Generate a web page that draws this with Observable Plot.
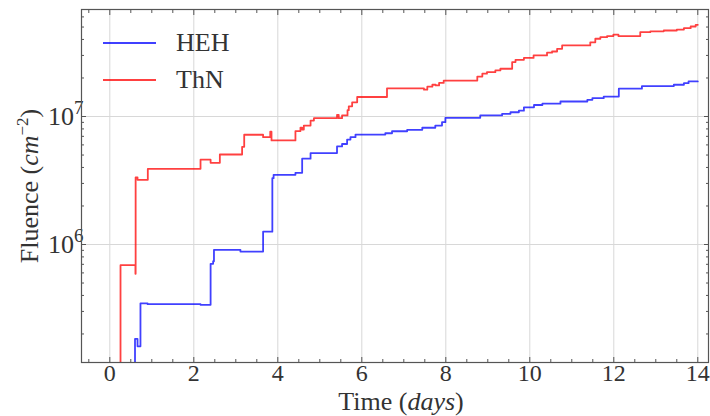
<!DOCTYPE html>
<html><head><meta charset="utf-8">
<script src="https://cdn.jsdelivr.net/npm/d3@7"></script>
<script src="https://cdn.jsdelivr.net/npm/@observablehq/plot@0.6"></script>
<style>
body{margin:0;background:#fff;}
#wrap{position:relative;width:710px;height:416px;font-family:"Liberation Serif",serif;}
#wrap svg{display:block;}
.leg{position:absolute;left:103px;height:30px;font-size:26px;color:#333;display:flex;align-items:center;}
.sw{width:53px;height:0;border-top:2px solid;margin-right:20px;}
</style></head><body><div id="wrap"></div>
<script>
const seriesNames = ["HEH", "ThN"];
const seriesColors = ["#0000ff", "#ff0000"];

const hehDays = [0, 0.6, 0.66, 0.73, 0.9, 2.16, 2.4, 2.46, 2.48, 3.11, 3.65, 3.87, 3.9, 4.42, 4.58, 4.78, 5.41, 5.53, 5.65, 5.73, 5.85, 6.56, 6.72, 7.08, 7.44, 7.75, 7.91, 7.99, 8.82, 9.34, 9.54, 9.74, 9.86, 10.1, 10.3, 10.73, 11.37, 11.49, 11.76, 12.12, 12.67, 13.43, 13.67, 13.78, 14.0];
const hehFluence = [1e5, 1.83e5, 1.6e5, 3.47e5, 3.42e5, 3.38e5, 7.06e5, 7.4e5, 9.08e5, 8.8e5, 1.26e6, 3.3e6, 3.5e6, 3.63e6, 4.68e6, 5.18e6, 5.84e6, 6.1e6, 6.6e6, 6.9e6, 7.23e6, 7.4e6, 7.67e6, 7.87e6, 8.17e6, 8.5e6, 9.03e6, 9.77e6, 1.02e7, 1.05e7, 1.08e7, 1.11e7, 1.18e7, 1.23e7, 1.26e7, 1.31e7, 1.35e7, 1.39e7, 1.43e7, 1.65e7, 1.73e7, 1.77e7, 1.82e7, 1.88e7, 1.88e7];

const thnDays = [0, 0.255, 0.61, 0.615, 0.66, 0.905, 2.16, 2.4, 2.62, 3.15, 3.2, 3.65, 3.82, 3.85, 4.42, 4.54, 4.58, 4.62, 4.78, 4.86, 5.41, 5.45, 5.53, 5.66, 5.69, 5.77, 5.89, 6.6, 7.48, 7.56, 7.68, 7.76, 7.84, 7.95, 8.75, 8.87, 8.98, 9.18, 9.3, 9.58, 9.66, 9.86, 10.09, 10.41, 10.53, 10.65, 10.77, 11.44, 11.56, 11.68, 11.84, 11.99, 12.11, 12.63, 12.87, 13.19, 13.5, 13.67, 13.83, 13.95, 14.0];
const thnFluence = [1e5, 6.9e5, 5.9e5, 3.35e6, 3.2e6, 3.9e6, 4.6e6, 4.35e6, 5.05e6, 5.8e6, 7.2e6, 6.9e6, 7.6e6, 6.5e6, 7.7e6, 8.2e6, 7.9e6, 8.5e6, 9.3e6, 9.7e6, 1.03e7, 9.7e6, 1.02e7, 1.12e7, 1.2e7, 1.29e7, 1.42e7, 1.66e7, 1.62e7, 1.71e7, 1.77e7, 1.75e7, 1.83e7, 1.91e7, 2.05e7, 2.16e7, 2.22e7, 2.29e7, 2.36e7, 2.66e7, 2.77e7, 2.87e7, 3.0e7, 3.15e7, 3.22e7, 3.38e7, 3.59e7, 3.8e7, 4.05e7, 4.17e7, 4.25e7, 4.37e7, 4.25e7, 4.56e7, 4.63e7, 4.7e7, 4.78e7, 4.9e7, 5.05e7, 5.2e7, 5.2e7];

const xTicks = [0, 2, 4, 6, 8, 10, 12, 14];
const xMinorTicks = [-0.5, 0.5, 1, 1.5, 2.5, 3, 3.5, 4.5, 5, 5.5, 6.5, 7, 7.5, 8.5, 9, 9.5, 10.5, 11, 11.5, 12.5, 13, 13.5, 14];
const yTicks = [1e6, 1e7];
const yTickBase = ["10", "10"];
const yTickExp = ["6", "7"];
const yMinorTicks = [2e5, 3e5, 4e5, 5e5, 6e5, 7e5, 8e5, 9e5, 2e6, 3e6, 4e6, 5e6, 6e6, 7e6, 8e6, 9e6, 2e7, 3e7, 4e7, 5e7, 6e7];

const rows = [
  ...hehDays.map((t, i) => ({series: seriesNames[0], t, v: hehFluence[i]})),
  ...thnDays.map((t, i) => ({series: seriesNames[1], t, v: thnFluence[i]}))
];
const colorOf = new Map(seriesNames.map((s, i) => [s, seriesColors[i]]));
const xMinor = xMinorTicks.filter(d => !xTicks.includes(d));

const plot = Plot.plot({
  width: 710, height: 416,
  marginLeft: 81, marginRight: 2, marginTop: 9, marginBottom: 54,
  style: {fontFamily: "'Liberation Serif', serif", color: "#333", background: "#fff"},
  x: {domain: [-0.674, 14.255]},
  y: {type: "log", domain: [1.197e5, 6.855e7]},
  marks: [
    Plot.gridX(xTicks, {stroke: "#d8d8d8", strokeOpacity: 1, strokeWidth: 1}),
    Plot.gridY(yTicks, {stroke: "#d8d8d8", strokeOpacity: 1, strokeWidth: 1}),
    Plot.line(rows, {x: "t", y: "v", z: "series", stroke: d => colorOf.get(d.series), curve: "step-after", strokeWidth: 1.8, strokeOpacity: 0.75, clip: true}),
    Plot.axisX(xTicks, {anchor: "bottom", tickSize: -5, tickPadding: 6, fontSize: 24, tickFormat: d => String(d), label: null, stroke: "#555"}),
    Plot.axisX(xMinor, {anchor: "bottom", tickSize: -3, tickFormat: () => "", label: null, stroke: "#555"}),
    Plot.axisX(xTicks, {anchor: "top", tickSize: -5, tickFormat: () => "", label: null, stroke: "#555"}),
    Plot.axisX(xMinor, {anchor: "top", tickSize: -3, tickFormat: () => "", label: null, stroke: "#555"}),
    Plot.axisY(yTicks, {anchor: "left", tickSize: -5, tickPadding: 3, fontSize: 26, tickFormat: d => yTickBase[yTicks.indexOf(d)] + "^" + yTickExp[yTicks.indexOf(d)], label: null, stroke: "#555"}),
    Plot.axisY(yMinorTicks, {anchor: "left", tickSize: -3, tickFormat: () => "", label: null, stroke: "#555"}),
    Plot.axisY(yTicks, {anchor: "right", tickSize: -5, tickFormat: () => "", label: null, stroke: "#555"}),
    Plot.axisY(yMinorTicks, {anchor: "right", tickSize: -3, tickFormat: () => "", label: null, stroke: "#555"}),
    Plot.frame({stroke: "#555", strokeWidth: 1.2})
  ]
});

const wrap = document.getElementById("wrap");
wrap.appendChild(plot);
const svg = d3.select(plot);

// superscript exponents on y tick labels
svg.selectAll("text").each(function () {
  const t = d3.select(this);
  const s = t.text();
  if (/^10\^\d$/.test(s)) {
    const [b, e] = s.split("^");
    t.text(null);
    t.append("tspan").text(b);
    t.append("tspan").attr("font-size", 19).attr("dy", "-0.55em").text(e);
  }
});

// y label
const yl = svg.append("text")
  .attr("transform", "translate(38,186) rotate(-90)")
  .attr("text-anchor", "middle").attr("font-size", 26).attr("fill", "#333");
yl.append("tspan").text("Fluence (");
yl.append("tspan").attr("font-style", "italic").text("cm");
yl.append("tspan").attr("font-size", 17).attr("dy", -10).text("−2");
yl.append("tspan").attr("dy", 10).text(")");

// x label
const xl = svg.append("text")
  .attr("x", 401).attr("y", 410)
  .attr("text-anchor", "middle").attr("font-size", 26).attr("fill", "#333");
xl.append("tspan").text("Time (");
xl.append("tspan").attr("font-style", "italic").text("days");
xl.append("tspan").text(")");

// legend
seriesNames.forEach((name, i) => {
  const row = document.createElement("div");
  row.className = "leg";
  row.style.top = (28 + i * 37) + "px";
  const sw = document.createElement("span");
  sw.className = "sw";
  sw.style.borderColor = seriesColors[i];
  sw.style.opacity = 0.75;
  const tx = document.createElement("span");
  tx.textContent = name;
  row.appendChild(sw); row.appendChild(tx);
  wrap.appendChild(row);
});
</script></body></html>
